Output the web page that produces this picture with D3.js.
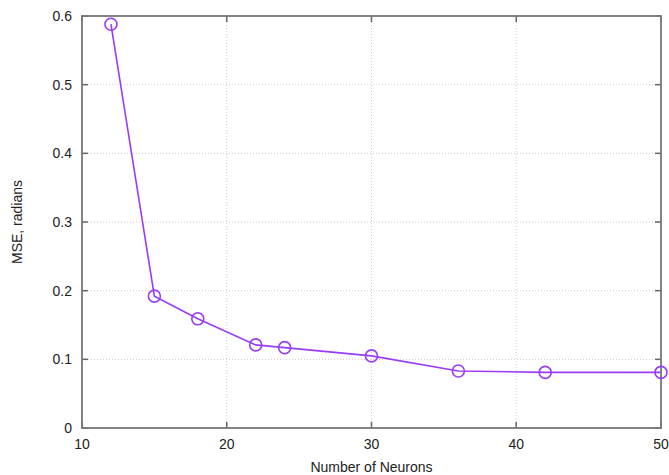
<!DOCTYPE html>
<html>
<head>
<meta charset="utf-8">
<script src="https://cdn.jsdelivr.net/npm/d3@7"></script>
<style>
  body { margin: 0; background: #fff; }
  text { font-family: "Liberation Sans", Arial, sans-serif; fill: #222; }
</style>
</head>
<body>
<svg width="669" height="475"></svg>
<script>
// chart data
const neurons = [12, 15, 18, 22, 24, 30, 36, 42, 50];
const mse = [0.588, 0.192, 0.159, 0.121, 0.117, 0.105, 0.083, 0.081, 0.081];
const xTicks = [10, 20, 30, 40, 50];
const yTicks = [0, 0.1, 0.2, 0.3, 0.4, 0.5, 0.6];

const margin = { left: 82, right: 8, top: 16, bottom: 47 };
const width = 669, height = 475;

const svg = d3.select("svg");

const x = d3.scaleLinear().domain([10, 50]).range([margin.left, width - margin.right]);
const y = d3.scaleLinear().domain([0, 0.6]).range([height - margin.bottom, margin.top]);

// grid
const grid = svg.append("g")
  .attr("stroke", "#ccc")
  .attr("stroke-width", 1)
  .attr("stroke-dasharray", "1,2");
grid.selectAll(".gx").data(xTicks.slice(1, -1)).enter().append("line")
  .attr("x1", d => x(d)).attr("x2", d => x(d))
  .attr("y1", y(0)).attr("y2", y(0.6));
grid.selectAll(".gy").data(yTicks.slice(1, -1)).enter().append("line")
  .attr("x1", x(10)).attr("x2", x(50))
  .attr("y1", d => y(d)).attr("y2", d => y(d));

// ticks (inward, mirrored like gnuplot)
const tk = svg.append("g").attr("stroke", "#666").attr("stroke-width", 1.5);
xTicks.forEach(d => {
  tk.append("line").attr("x1", x(d)).attr("x2", x(d)).attr("y1", y(0)).attr("y2", y(0) - 6);
  tk.append("line").attr("x1", x(d)).attr("x2", x(d)).attr("y1", y(0.6)).attr("y2", y(0.6) + 6);
});
yTicks.forEach(d => {
  tk.append("line").attr("x1", x(10)).attr("x2", x(10) + 6).attr("y1", y(d)).attr("y2", y(d));
  tk.append("line").attr("x1", x(50)).attr("x2", x(50) - 6).attr("y1", y(d)).attr("y2", y(d));
});

// frame
svg.append("rect")
  .attr("x", x(10)).attr("y", y(0.6))
  .attr("width", x(50) - x(10)).attr("height", y(0) - y(0.6))
  .attr("fill", "none").attr("stroke", "#777").attr("stroke-width", 1.8);

// tick labels
svg.append("g").selectAll("text").data(yTicks).enter().append("text")
  .attr("x", x(10) - 10).attr("y", d => y(d)).attr("dy", "0.35em")
  .attr("text-anchor", "end").attr("font-size", 14)
  .text(d => d === 0 ? "0" : d.toFixed(1));
svg.append("g").selectAll("text").data(xTicks).enter().append("text")
  .attr("x", d => x(d)).attr("y", y(0) + 21)
  .attr("text-anchor", "middle").attr("font-size", 14)
  .text(d => d);

// axis titles
svg.append("text")
  .attr("x", (x(10) + x(50)) / 2).attr("y", height - 3)
  .attr("text-anchor", "middle").attr("font-size", 14)
  .text("Number of Neurons");
svg.append("text")
  .attr("transform", `translate(22,${(y(0) + y(0.6)) / 2}) rotate(-90)`)
  .attr("text-anchor", "middle").attr("font-size", 14)
  .text("MSE, radians");

// series
const pts = neurons.map((n, i) => [n, mse[i]]);
const line = d3.line().x(d => x(d[0])).y(d => y(d[1]));
svg.append("path").datum(pts)
  .attr("d", line).attr("fill", "none")
  .attr("stroke", "#9a3cf5").attr("stroke-width", 1.6);
svg.append("g").selectAll("circle").data(pts).enter().append("circle")
  .attr("cx", d => x(d[0])).attr("cy", d => y(d[1])).attr("r", 6)
  .attr("fill", "none").attr("stroke", "#9a3cf5").attr("stroke-width", 1.6);
</script>
</body>
</html>
